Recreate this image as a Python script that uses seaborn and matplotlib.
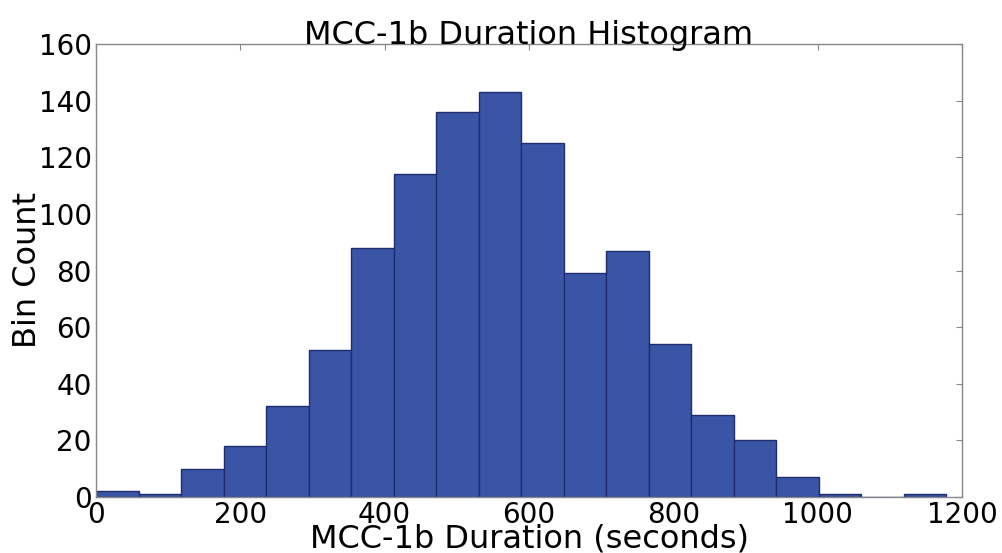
import numpy as np
import pandas as pd
import matplotlib
matplotlib.use("Agg")
import matplotlib.pyplot as plt
import seaborn as sns

bin_edges = [0, 58.9, 117.8, 176.7, 235.6, 294.5, 353.4, 412.3, 471.2, 530.1, 589.0,
             647.9, 706.8, 765.7, 824.6, 883.5, 942.4, 1001.3, 1060.2, 1119.1, 1178.0]
counts = [2, 1, 10, 18, 32, 52, 88, 114, 136, 143, 125, 79, 87, 54, 29, 20, 7, 1, 0, 1]
x_ticks = [0, 200, 400, 600, 800, 1000, 1200]
y_ticks = [0, 20, 40, 60, 80, 100, 120, 140, 160]

centers = [(a + b) / 2 for a, b in zip(bin_edges[:-1], bin_edges[1:])]
df = pd.DataFrame({"duration": centers, "count": counts})

sns.set_style("white")
plt.rcParams['font.family'] = ['DejaVu Sans']
plt.rcParams['text.color'] = 'black'
plt.rcParams['axes.labelcolor'] = 'black'

fig = plt.figure(figsize=(10.03, 5.53), dpi=100)
ax = fig.add_axes([96/1003, 1 - 497/553, (962-96)/1003, (497-44)/553])

sns.histplot(data=df, x="duration", weights="count", bins=bin_edges,
             color="#3a55a6", edgecolor="#1f2d6e", linewidth=1.0, alpha=1.0, ax=ax)

ax.set_xlim(0, 1200)
ax.set_ylim(0, 160)
ax.set_xticks(x_ticks)
ax.set_yticks(y_ticks)
ax.tick_params(axis="both", direction="in", length=4, width=0.8, colors="#888888",
               labelcolor="black", labelsize=20, top=True, right=True, pad=3)
for s in ax.spines.values():
    s.set_visible(True)
    s.set_color("#888888")
    s.set_linewidth(1.0)

ax.set_title("MCC-1b Duration Histogram", fontsize=23, pad=0, color="black")
ax.set_xlabel("MCC-1b Duration (seconds)", fontsize=23, labelpad=-4, color="black")
ax.set_ylabel("Bin Count", fontsize=23, labelpad=-3, color="black")

fig.savefig("out.png", dpi=100, facecolor="white")
